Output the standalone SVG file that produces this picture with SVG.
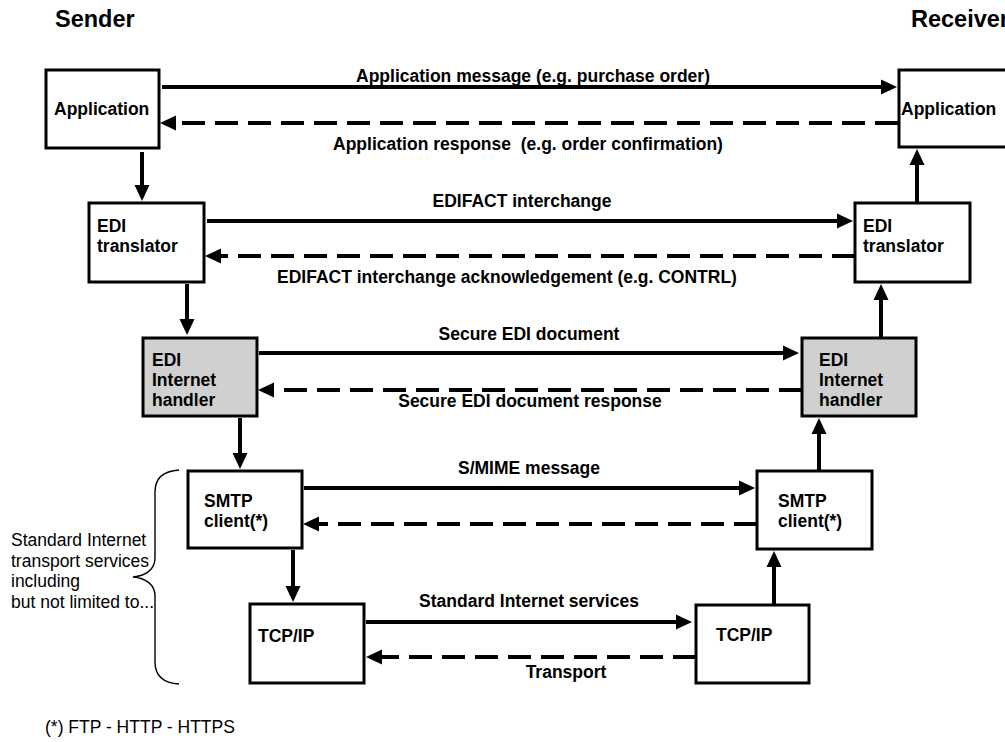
<svg xmlns="http://www.w3.org/2000/svg" width="1005" height="742" viewBox="0 0 1005 742">
<style>
text{font-family:"Liberation Sans",Arial,sans-serif;fill:#000}
.t{font-size:17.5px;font-weight:bold}
.h{font-size:23.5px;font-weight:bold}
.n{font-size:17.5px}
.lbl{font-size:17.5px;font-weight:bold;text-anchor:middle;white-space:pre}
.box{fill:#fff;stroke:#000;stroke-width:3}
.gray{fill:#d0d0d0}
.s{fill:none;stroke:#000;stroke-width:4;marker-end:url(#ah)}
.d{fill:none;stroke:#000;stroke-width:4;stroke-dasharray:23 10;marker-end:url(#ah)}
.brace{fill:none;stroke:#000;stroke-width:1.4}
</style>
<defs>
<marker id="ah" markerUnits="userSpaceOnUse" markerWidth="16" markerHeight="16" refX="8" refY="7.5" orient="auto" viewBox="0 0 16 15">
<path d="M0,0 L16,7.5 L0,15 z" fill="#000"/>
</marker>
</defs>
<rect width="1005" height="742" fill="#fff"/>
<text class="h" x="55" y="27">Sender</text>
<text class="h" x="911" y="27">Receiver</text>

<g id="sender-app"><rect class="box" x="46" y="70" width="113" height="78"/><text class="t" x="54" y="115">Application</text></g>
<g id="receiver-app"><rect class="box" x="899" y="70" width="120" height="77"/><text class="t" x="901" y="115">Application</text></g>
<g id="sender-edi-translator"><rect class="box" x="89" y="203" width="115" height="79"/><text class="t" x="97" y="232">EDI</text><text class="t" x="97" y="252">translator</text></g>
<g id="receiver-edi-translator"><rect class="box" x="855" y="203" width="115" height="79"/><text class="t" x="863" y="232">EDI</text><text class="t" x="863" y="252">translator</text></g>
<g id="sender-edi-internet-handler"><rect class="box gray" x="143" y="338" width="114" height="78"/><text class="t" x="152" y="366">EDI</text><text class="t" x="152" y="386">Internet</text><text class="t" x="152" y="406">handler</text></g>
<g id="receiver-edi-internet-handler"><rect class="box gray" x="802" y="338" width="114" height="78"/><text class="t" x="819" y="366">EDI</text><text class="t" x="819" y="386">Internet</text><text class="t" x="819" y="406">handler</text></g>
<g id="sender-smtp-client"><rect class="box" x="188" y="471" width="114" height="77"/><text class="t" x="204" y="507">SMTP</text><text class="t" x="204" y="527">client(*)</text></g>
<g id="receiver-smtp-client"><rect class="box" x="757" y="471" width="115" height="78"/><text class="t" x="778" y="507">SMTP</text><text class="t" x="778" y="527">client(*)</text></g>
<g id="sender-tcpip"><rect class="box" x="250" y="604" width="114" height="79"/><text class="t" x="258" y="642">TCP/IP</text></g>
<g id="receiver-tcpip"><rect class="box" x="696" y="605" width="113" height="78"/><text class="t" x="716" y="641">TCP/IP</text></g>

<g id="connectors">
<path class="s" d="M162,87 H889"/>
<path class="d" d="M898,123 H168"/>
<path class="s" d="M142,152 V193"/>
<path class="s" d="M917,203 V157"/>
<path class="s" d="M207,221 H845"/>
<path class="d" d="M855,256 H213"/>
<path class="s" d="M187,284 V327"/>
<path class="s" d="M259,353 H791"/>
<path class="d" d="M802,390 H266"/>
<path class="s" d="M881,338 V292"/>
<path class="s" d="M240,418 V461"/>
<path class="s" d="M304,488 H747"/>
<path class="d" d="M757,524 H311"/>
<path class="s" d="M819,470 V426"/>
<path class="s" d="M293,550 V594"/>
<path class="s" d="M366,622 H684"/>
<path class="d" d="M696,657 H374"/>
<path class="s" d="M774,604 V559"/>
</g>

<g id="labels">
<text class="lbl" x="533" y="82">Application message (e.g. purchase order)</text>
<text class="lbl" x="528" y="150">Application response  (e.g. order confirmation)</text>
<text class="lbl" x="522" y="207">EDIFACT interchange</text>
<text class="lbl" x="507" y="283">EDIFACT interchange acknowledgement (e.g. CONTRL)</text>
<text class="lbl" x="529" y="340">Secure EDI document</text>
<text class="lbl" x="530" y="407">Secure EDI document response</text>
<text class="lbl" x="529" y="474">S/MIME message</text>
<text class="lbl" x="529" y="607">Standard Internet services</text>
<text class="lbl" x="566" y="678">Transport</text>
</g>

<g id="brace-annotation">
<path class="brace" d="M179,470 C163,471 155,478 155,492 V558 C155,570 145,576 133,577 C145,578 155,584 155,596 V662 C155,676 163,683 179,684"/>
<text class="n" x="11" y="546">Standard Internet</text>
<text class="n" x="11" y="567">transport services</text>
<text class="n" x="11" y="587">including</text>
<text class="n" x="11" y="608">but not limited to...</text>
</g>
<text class="n" x="45" y="733">(*) FTP - HTTP - HTTPS</text>
</svg>
